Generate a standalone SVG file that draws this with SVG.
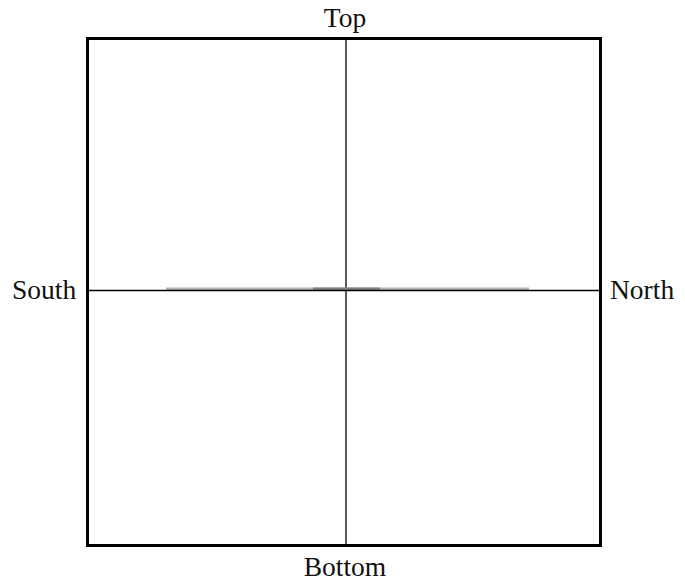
<svg xmlns="http://www.w3.org/2000/svg" width="685" height="588" viewBox="0 0 685 588">
<style>
.lbl{font-family:"Liberation Serif","Times New Roman",serif;font-size:27.5px;fill:#111}
.ax{stroke:#000;stroke-width:1.3;fill:none}
</style>
<rect x="0" y="0" width="685" height="588" fill="#fff"/>
<g id="frame"><rect x="87.5" y="38.5" width="513" height="507" fill="none" stroke="#000" stroke-width="3"/></g>
<g id="connectors">
<line class="ax" x1="346" y1="38" x2="346" y2="546"/>
<line x1="166" y1="289" x2="529" y2="289" stroke="#b4b4b4" stroke-width="3"/>
<line x1="313" y1="289" x2="380" y2="289" stroke="#808080" stroke-width="3"/>
<line class="ax" x1="87" y1="290.5" x2="601" y2="290.5"/>
</g>
<g id="top"><text class="lbl" x="345" y="27" text-anchor="middle">Top</text></g>
<g id="south"><text class="lbl" x="12" y="299">South</text></g>
<g id="north"><text class="lbl" x="610" y="299">North</text></g>
<g id="bottom"><text class="lbl" x="345" y="576" text-anchor="middle">Bottom</text></g>
</svg>
